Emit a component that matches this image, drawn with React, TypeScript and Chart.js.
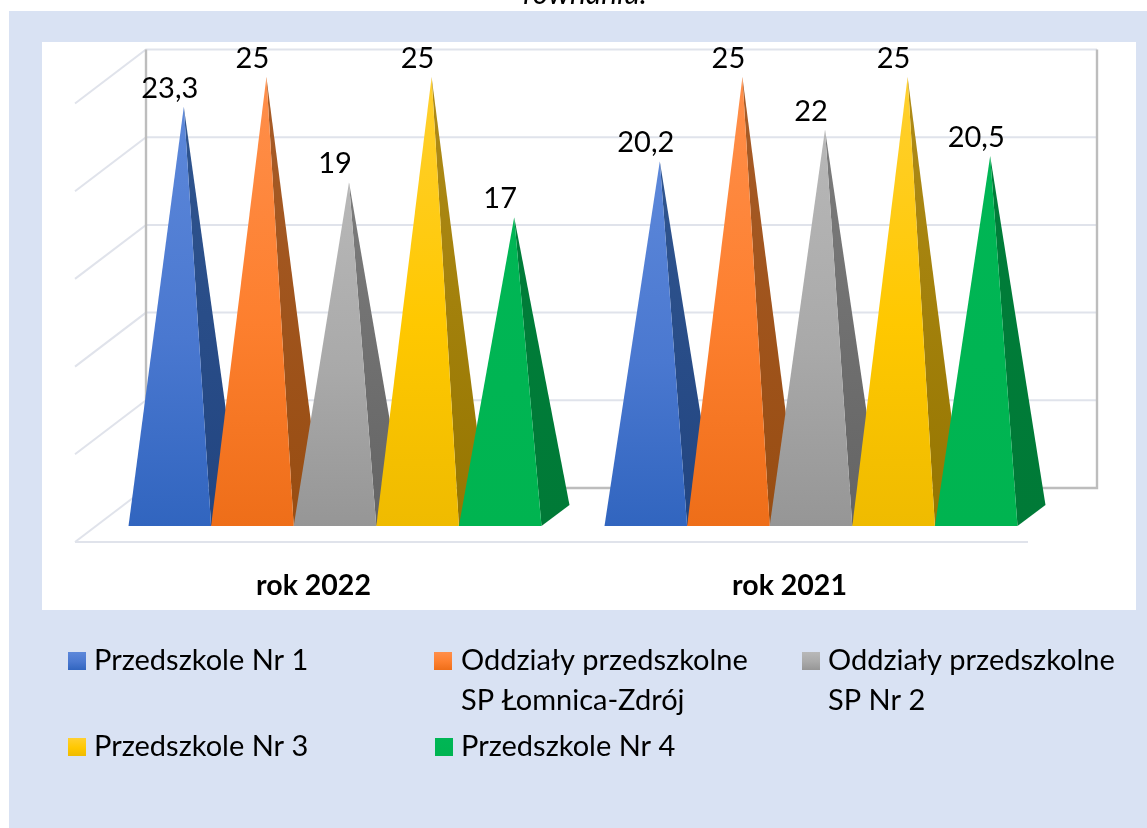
import React, { useEffect, useRef } from "react";
import { Chart, registerables } from "chart.js";

Chart.register(...registerables);

const categories = ["rok 2022", "rok 2021"];
const seriesNames = [
  "Przedszkole Nr 1",
  "Oddziały przedszkolne SP Łomnica-Zdrój",
  "Oddziały przedszkolne SP Nr 2",
  "Przedszkole Nr 3",
  "Przedszkole Nr 4",
];
const przedszkole1 = [23.3, 20.2];
const oddzialyLomnica = [25, 25];
const oddzialyNr2 = [19, 22];
const przedszkole3 = [25, 25];
const przedszkole4 = [17, 20.5];
const seriesValues = [przedszkole1, oddzialyLomnica, oddzialyNr2, przedszkole3, przedszkole4];
const valueLabels = [["23,3", "20,2"], ["25", "25"], ["19", "22"], ["25", "25"], ["17", "20,5"]];
const legendLines = [
  ["Przedszkole Nr 1"],
  ["Oddziały przedszkolne", "SP Łomnica-Zdrój"],
  ["Oddziały przedszkolne", "SP Nr 2"],
  ["Przedszkole Nr 3"],
  ["Przedszkole Nr 4"],
];
const clippedTitle = "równaniu.";

const frontTop = ["#5D88DA", "#FF8F4B", "#B8B8B8", "#FFD030", "#00B655"];
const frontMid = ["#4A78D0", "#FD7F2E", "#A9A9A9", "#FFC800", "#00B553"];
const frontBottom = ["#3165BF", "#EE6E19", "#969696", "#EFBB00", "#00B450"];
const sideTop = ["#30558F", "#A85C28", "#7C7C7C", "#B08C18", "#007D39"];
const sideBottom = ["#224581", "#984D12", "#646464", "#967600", "#007A37"];
const legendPos = [
  { sx: 68, tx: 94, y: 661 },
  { sx: 434, tx: 461, y: 661 },
  { sx: 802, tx: 828, y: 661 },
  { sx: 68, tx: 94, y: 747 },
  { sx: 435, tx: 461, y: 747 },
];

const FONT = "Lato, Carlito, sans-serif";
const DEPTH_X = 28;
const DEPTH_Y = 21;
const GRID = "#E0E3EB";
const WALL = "#BDBDBD";

const backdrop = {
  id: "backdrop",
  beforeDraw(chart: any) {
    const { ctx } = chart;
    const W = chart.width;
    const H = chart.height;
    ctx.save();
    ctx.fillStyle = "#D9E2F3";
    ctx.fillRect(9, 11, W - 9, H - 11);
    ctx.fillStyle = "#FFFFFF";
    ctx.fillRect(42, 42, 1094, 568);
    ctx.font = `italic 30px ${FONT}`;
    ctx.fillStyle = "#000";
    ctx.textAlign = "center";
    ctx.textBaseline = "alphabetic";
    ctx.fillText(clippedTitle, 585, 4);
    ctx.restore();
  },
  beforeDatasetsDraw(chart: any) {
    const { ctx, chartArea: a, scales } = chart;
    const y = scales.y;
    ctx.save();
    const backL = a.left + 35;
    const backR = a.right + 34;
    const frontL = a.left - 36;
    const frontR = a.right - 35;
    const backUp = 27.5;
    const frontDown = 26.5;
    ctx.lineWidth = 2;
    ctx.strokeStyle = GRID;
    const ticks = y.ticks.length ? y.ticks.map((t: any) => t.value) : [0, 5, 10, 15, 20, 25];
    for (const v of ticks) {
      const py = y.getPixelForValue(v);
      ctx.beginPath();
      ctx.moveTo(frontL, py + frontDown);
      ctx.lineTo(backL, py - backUp);
      if (v !== 0) ctx.lineTo(backR, py - backUp);
      ctx.stroke();
    }
    const zero = y.getPixelForValue(0);
    const top = y.getPixelForValue(25);
    ctx.beginPath();
    ctx.moveTo(frontL, zero + frontDown);
    ctx.lineTo(frontR, zero + frontDown);
    ctx.stroke();
    ctx.strokeStyle = WALL;
    ctx.lineWidth = 2.4;
    ctx.beginPath();
    ctx.moveTo(backL, top - backUp);
    ctx.lineTo(backL, zero - backUp);
    ctx.lineTo(backR, zero - backUp);
    ctx.lineTo(backR, top - backUp);
    ctx.stroke();
    ctx.restore();
  },
};

const pyramids = {
  id: "pyramids",
  afterDatasetsDraw(chart: any) {
    const { ctx } = chart;
    const labels: any[] = [];
    ctx.save();
    chart.data.datasets.forEach((_: any, di: number) => {
      const meta = chart.getDatasetMeta(di);
      meta.data.forEach((el: any, i: number) => {
        const half = el.width / 2;
        const apexX = el.x;
        const apexY = el.y;
        const l = apexX - DEPTH_X / 2 - half;
        const r = apexX - DEPTH_X / 2 + half;
        const fy = el.base + DEPTH_Y / 2;

        const side = ctx.createLinearGradient(0, apexY, 0, fy);
        side.addColorStop(0, sideTop[di]);
        side.addColorStop(1, sideBottom[di]);
        ctx.fillStyle = side;
        ctx.beginPath();
        ctx.moveTo(apexX, apexY);
        ctx.lineTo(r + DEPTH_X, fy - DEPTH_Y);
        ctx.lineTo(r, fy);
        ctx.closePath();
        ctx.fill();

        const front = ctx.createLinearGradient(0, apexY, 0, fy);
        front.addColorStop(0, frontTop[di]);
        front.addColorStop(0.55, frontMid[di]);
        front.addColorStop(1, frontBottom[di]);
        ctx.fillStyle = front;
        ctx.beginPath();
        ctx.moveTo(apexX, apexY);
        ctx.lineTo(r, fy);
        ctx.lineTo(l, fy);
        ctx.closePath();
        ctx.fill();

        labels.push({ x: apexX - DEPTH_X / 2, y: apexY - 9, t: valueLabels[di][i] });
      });
    });
    ctx.fillStyle = "#000";
    ctx.font = `29px ${FONT}`;
    ctx.textAlign = "center";
    ctx.textBaseline = "alphabetic";
    for (const p of labels) ctx.fillText(p.t, p.x, p.y);
    ctx.restore();
  },
};

const sideLegend = {
  id: "sideLegend",
  afterDraw(chart: any) {
    const { ctx } = chart;
    ctx.save();
    ctx.font = `29px ${FONT}`;
    ctx.textAlign = "left";
    ctx.textBaseline = "middle";
    legendLines.forEach((lines, i) => {
      const p = legendPos[i];
      const g = ctx.createLinearGradient(0, p.y - 9, 0, p.y + 9);
      g.addColorStop(0, frontTop[i]);
      g.addColorStop(0.55, frontMid[i]);
      g.addColorStop(1, frontBottom[i]);
      ctx.fillStyle = g;
      ctx.fillRect(p.sx, p.y - 9, 18, 18);
      ctx.fillStyle = "#000";
      lines.forEach((line, j) => ctx.fillText(line, p.tx, p.y + j * 40));
    });
    ctx.restore();
  },
};

export default function App() {
  const ref = useRef<HTMLCanvasElement>(null);
  useEffect(() => {
    const chart = new Chart(ref.current as HTMLCanvasElement, {
      type: "bar",
      data: {
        labels: categories,
        datasets: seriesValues.map((data, i) => ({
          label: seriesNames[i],
          data,
          backgroundColor: "rgba(0,0,0,0)",
          borderWidth: 0,
          barPercentage: 1,
          categoryPercentage: 0.8676,
        })),
      },
      options: {
        responsive: false,
        animation: false,
        devicePixelRatio: 1,
        layout: { padding: { left: 111, right: 84, top: 77, bottom: 212.5 } },
        plugins: { legend: { display: false }, tooltip: { enabled: false }, title: { display: false } },
        scales: {
          x: {
            grid: { display: false, drawTicks: false },
            border: { display: false },
            afterFit: (s: any) => {
              s.height = 100;
            },
            ticks: {
              color: "#000",
              font: { family: FONT, size: 28.5, weight: "bold" },
              padding: 53,
              labelOffset: -35.5,
              maxRotation: 0,
            },
          },
          y: {
            display: false,
            min: 0,
            max: 25,
            ticks: { stepSize: 5 },
          },
        },
      } as any,
      plugins: [backdrop, pyramids, sideLegend],
    });
    return () => chart.destroy();
  }, []);
  return (
    <div style={{ position: "absolute", left: 0, top: 0, width: 1147, height: 828, background: "#fff", overflow: "hidden" }}>
      <canvas ref={ref} width={1147} height={828} style={{ display: "block" }} />
    </div>
  );
}
